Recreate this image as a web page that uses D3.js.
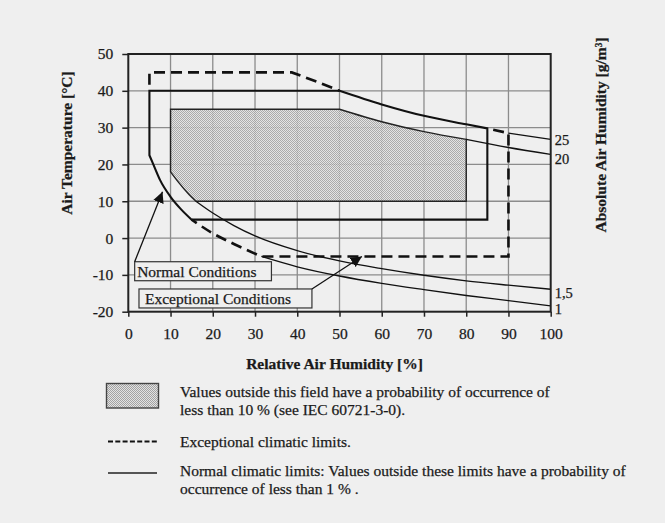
<!DOCTYPE html>
<html>
<head>
<meta charset="utf-8">
<script src="https://cdn.jsdelivr.net/npm/d3@7"></script>
<style>
  body { margin: 0; background: #efefef; }
  text { font-family: "Liberation Serif", "Times New Roman", serif; fill: #1a1a1a; stroke: #1a1a1a; stroke-width: 0.25px; }
</style>
</head>
<body>
<div id="chart"></div>
<script>
var w = 665;
var h = 523;

// tick values
var xTicks = [0, 10, 20, 30, 40, 50, 60, 70, 80, 90, 100];
var yTicks = [-20, -10, 0, 10, 20, 30, 40, 50];

// constant absolute humidity curves [RH %, T °C]
var curve25 = [[38.7, 45], [45, 42.3], [50, 40], [60, 36.3], [70, 33.2], [80, 30.9], [85, 29.8], [90, 28.5], [100, 26.8]];
var curve20 = [[50, 35], [60, 31.6], [70, 28.9], [80, 26.8], [90, 24.6], [100, 22.7]];
var curve15 = [[10, 18], [12, 15], [14, 12.3], [16, 10], [20, 6.8], [25, 3.4], [30, 0.6], [40, -3.4], [50, -6.2], [60, -8.3], [70, -10.1], [80, -11.6], [90, -12.8], [100, -13.9]];
var curve1 = [[5, 22.5], [6, 19.8], [7.5, 15.8], [10, 11.2], [12.5, 7.8], [15, 5], [20, 1.3], [25, -1.6], [31.5, -5], [40, -7.8], [50, -10.3], [60, -12.3], [70, -14], [80, -15.6], [90, -17], [100, -18.4]];
var curveNames = ["25", "20", "1,5", "1"];

// limits: [left RH, right RH, bottom T, top T]
var fieldLimits = [10, 80, 10, 35];
var normalLimits = [5, 85, 5, 40];
var exceptLimits = [5, 90, -5, 45];

// annotations: label, text anchor [RH, T], arrow tip [RH, T]
var noteLabels = ["Normal Conditions", "Exceptional Conditions"];
var noteAnchors = [[2.1, -10.5], [3.95, -17.9]];
var noteTips = [[8.1, 12.6], [55.3, -5]];

var legendTexts = [
    ["Values outside this field have a probability of occurrence of", "less than 10 % (see IEC 60721-3-0)."],
    ["Exceptional climatic limits."],
    ["Normal climatic limits: Values outside these limits have a probability of", "occurrence of less than 1 % ."]
];

var svg = d3.select("#chart").append("svg")
    .attr("width", w)
    .attr("height", h)
    .style("background-color", "#efefef");

var x = d3.scaleLinear().domain([0, 100]).range([128.3, 550.7]);
var y = d3.scaleLinear().domain([-20, 50]).range([311.7, 54]);

var defs = svg.append("defs");
var pat = defs.append("pattern")
    .attr("id", "dots")
    .attr("width", 2).attr("height", 2)
    .attr("patternUnits", "userSpaceOnUse");
pat.append("rect").attr("width", 2).attr("height", 2).attr("fill", "#e2e2e2");
pat.append("rect").attr("width", 1).attr("height", 1).attr("fill", "#a2a2a2");
pat.append("rect").attr("x", 1).attr("y", 1).attr("width", 1).attr("height", 1).attr("fill", "#a2a2a2");

defs.append("marker")
    .attr("id", "arrow")
    .attr("viewBox", "0 0 10 10")
    .attr("refX", 10).attr("refY", 5)
    .attr("markerWidth", 11).attr("markerHeight", 11)
    .attr("markerUnits", "userSpaceOnUse")
    .attr("orient", "auto")
  .append("path")
    .attr("d", "M0,0L10,5L0,10z")
    .attr("fill", "#111");

// grid
svg.append("g").selectAll("line").data(xTicks.slice(1, -1)).join("line")
    .attr("x1", d => x(d)).attr("x2", d => x(d))
    .attr("y1", y(-20)).attr("y2", y(50))
    .attr("stroke", "#8c8c8c").attr("stroke-width", 1.3);
svg.append("g").selectAll("line").data(yTicks.slice(1, -1)).join("line")
    .attr("x1", x(0)).attr("x2", x(100))
    .attr("y1", d => y(d)).attr("y2", d => y(d))
    .attr("stroke", "#8c8c8c").attr("stroke-width", 1.3);

// path helper: joins straight and curved pieces into one path
function buildPath(pieces, close) {
    var p = d3.path();
    var started = false;
    var ctx = {
        moveTo: function(a, b) { if (started) p.lineTo(a, b); else { p.moveTo(a, b); started = true; } },
        lineTo: function(a, b) { p.lineTo(a, b); },
        bezierCurveTo: function(a, b, c, d, e, f) { p.bezierCurveTo(a, b, c, d, e, f); },
        closePath: function() { p.closePath(); }
    };
    pieces.forEach(function(pc) {
        d3.line()
            .x(d => x(d[0])).y(d => y(d[1]))
            .curve(pc.curved ? d3.curveMonotoneX : d3.curveLinear)
            .context(ctx)(pc.pts);
    });
    if (close) p.closePath();
    return p.toString();
}
function part(c, lo, hi) { return c.filter(d => d[0] >= lo && d[0] <= hi); }

// shaded field
var fTop = part(curve20, fieldLimits[0], fieldLimits[1]);
var fLeft = part(curve15, fieldLimits[0], 100).filter(d => d[1] >= fieldLimits[2]);
var shadedD = buildPath([
    { pts: [fLeft[0], [fieldLimits[0], fieldLimits[3]], fTop[0]] },
    { pts: fTop, curved: true },
    { pts: [fTop[fTop.length - 1], [fieldLimits[1], fieldLimits[2]], fLeft[fLeft.length - 1]] },
    { pts: fLeft.slice().reverse(), curved: true }
], true);
svg.append("path").attr("d", shadedD)
    .attr("fill", "url(#dots)").attr("fill-opacity", 0.88)
    .attr("stroke", "#222").attr("stroke-width", 1.4);

// thin reference curves
var thin = [
    part(curve25, exceptLimits[1], 100),
    part(curve20, fieldLimits[1], 100),
    curve15.filter(d => d[1] <= fieldLimits[2]),
    curve1.filter(d => d[1] <= exceptLimits[2])
];
svg.append("g").selectAll("path").data(thin).join("path")
    .attr("d", d3.line().x(d => x(d[0])).y(d => y(d[1])).curve(d3.curveMonotoneX))
    .attr("fill", "none").attr("stroke", "#111").attr("stroke-width", 1.3);

var labelNudge = [6, 9.5, 9, 8];
svg.append("g").selectAll("text").data(thin).join("text")
    .attr("x", x(100) + 4)
    .attr("y", (d, i) => y(d[d.length - 1][1]) + labelNudge[i])
    .attr("font-size", 14.5)
    .text((d, i) => curveNames[i]);

// normal limits
var nTop = part(curve25, 50, normalLimits[1]);
var nLeft = curve1.filter(d => d[1] >= normalLimits[2] && d[0] >= normalLimits[0]);
var normalD = buildPath([
    { pts: [nLeft[0], [normalLimits[0], normalLimits[3]], nTop[0]] },
    { pts: nTop, curved: true },
    { pts: [nTop[nTop.length - 1], [normalLimits[1], normalLimits[2]], nLeft[nLeft.length - 1]] },
    { pts: nLeft.slice().reverse(), curved: true }
], true);
svg.append("path").attr("d", normalD)
    .attr("fill", "none").attr("stroke", "#111").attr("stroke-width", 2.1);

// exceptional limits (dashed where not on the normal line)
var eTop = part(curve25, curve25[0][0], 50);
var eRight = part(curve25, normalLimits[1], exceptLimits[1]);
var eLow = curve1.filter(d => d[1] <= normalLimits[2] && d[1] >= exceptLimits[2]);
var exceptD = buildPath([
    { pts: [[exceptLimits[0], normalLimits[3]], [exceptLimits[0], exceptLimits[3]], eTop[0]] },
    { pts: eTop, curved: true }
]) + buildPath([
    { pts: eRight, curved: true },
    { pts: [eRight[eRight.length - 1], [exceptLimits[1], exceptLimits[2]], eLow[eLow.length - 1]] },
    { pts: eLow.slice().reverse(), curved: true }
]);
svg.append("path").attr("d", exceptD)
    .attr("fill", "none").attr("stroke", "#111").attr("stroke-width", 2.6)
    .attr("stroke-dasharray", "11,6").attr("stroke-dashoffset", 11);

// frame
svg.append("rect")
    .attr("x", x(0)).attr("y", y(50))
    .attr("width", x(100) - x(0)).attr("height", y(-20) - y(50))
    .attr("fill", "none").attr("stroke", "#222").attr("stroke-width", 2);

// axes
var xAxis = svg.append("g")
    .attr("transform", "translate(0," + y(-20) + ")")
    .call(d3.axisBottom(x).tickValues(xTicks).tickSize(5).tickPadding(11).tickFormat(d => String(d)));
var yAxis = svg.append("g")
    .attr("transform", "translate(" + x(0) + ",0)")
    .call(d3.axisLeft(y).tickValues(yTicks).tickSize(6).tickPadding(9).tickFormat(d => String(d)));
[xAxis, yAxis].forEach(function(a) {
    a.select(".domain").remove();
    a.selectAll(".tick line").attr("stroke", "#222").attr("stroke-width", 1.5);
    a.selectAll(".tick text").attr("font-family", "Liberation Serif").attr("font-size", 15.5).attr("fill", "#1a1a1a");
});

// axis titles
svg.append("text")
    .attr("x", (x(0) + x(100)) / 2 - 5).attr("y", 369)
    .attr("text-anchor", "middle").attr("font-size", 15.5).attr("font-weight", "bold")
    .text("Relative Air Humidity [%]");
svg.append("text")
    .attr("transform", "translate(72,143) rotate(-90)")
    .attr("text-anchor", "middle").attr("font-size", 15.5).attr("font-weight", "bold")
    .text("Air Temperature [°C]");
svg.append("text")
    .attr("transform", "translate(606,135) rotate(-90)")
    .attr("text-anchor", "middle").attr("font-size", 15.5).attr("font-weight", "bold")
    .text("Absolute Air Humidity [g/m³]");

// annotations
var padR = [15, 21];
var padL = [2.5, 6];
noteLabels.forEach(function(lbl, i) {
    var g = svg.append("g");
    var t = g.append("text")
        .attr("x", x(noteAnchors[i][0])).attr("y", y(noteAnchors[i][1]))
        .attr("font-size", 15.5).text(lbl);
    var bb = t.node().getBBox();
    var bx = bb.x - padL[i], by = bb.y - 1, bw = bb.width + padL[i] + padR[i], bh = bb.height + 2;
    g.insert("rect", "text")
        .attr("x", bx).attr("y", by).attr("width", bw).attr("height", bh)
        .attr("fill", "#efefef").attr("stroke", "#333").attr("stroke-width", 1.2);
    var sx = i === 0 ? bx : bx + bw;
    svg.append("line")
        .attr("x1", sx).attr("y1", by)
        .attr("x2", x(noteTips[i][0])).attr("y2", y(noteTips[i][1]))
        .attr("stroke", "#111").attr("stroke-width", 1.3)
        .attr("marker-end", "url(#arrow)");
});

// legend
var lg = svg.append("g");
lg.append("rect")
    .attr("x", 106.5).attr("y", 383.5).attr("width", 52).attr("height", 24.5)
    .attr("fill", "url(#dots)").attr("stroke", "#444").attr("stroke-width", 1.4);
lg.append("line")
    .attr("x1", 108).attr("x2", 159).attr("y1", 441.5).attr("y2", 441.5)
    .attr("stroke", "#111").attr("stroke-width", 2).attr("stroke-dasharray", "5,2.3");
lg.append("line")
    .attr("x1", 108).attr("x2", 157).attr("y1", 473).attr("y2", 473)
    .attr("stroke", "#222").attr("stroke-width", 1.4);
var legY = [397, 447, 476];
legendTexts.forEach(function(lines, i) {
    lines.forEach(function(s, j) {
        lg.append("text")
            .attr("x", 180).attr("y", legY[i] + j * 17.5)
            .attr("font-size", 15.5).text(s);
    });
});
</script>
</body>
</html>
